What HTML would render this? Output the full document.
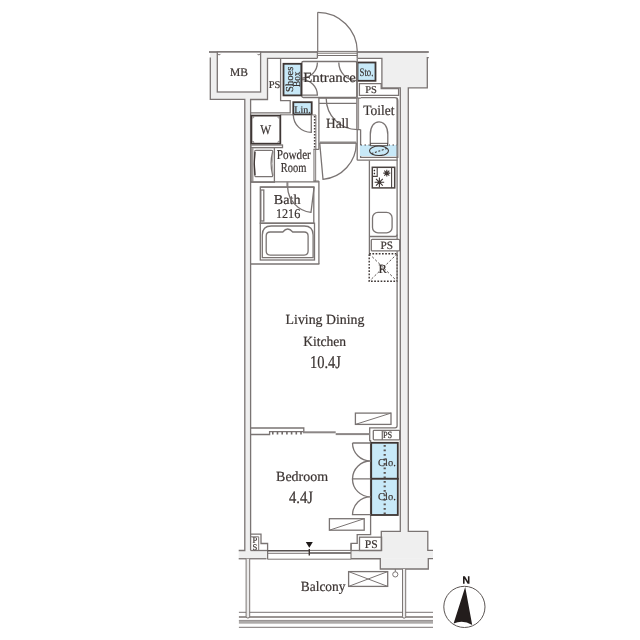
<!DOCTYPE html>
<html><head><meta charset="utf-8">
<style>
html,body{margin:0;padding:0;background:#fff;}
svg{display:block;will-change:transform;}
text{text-rendering:geometricPrecision;font-family:"Liberation Serif",serif;fill:#3a3331;stroke:#3a3331;stroke-width:0.2;}
.l{fill:none;stroke:#7a7473;stroke-width:1.3;}
.t{fill:none;stroke:#7a7473;stroke-width:1;}
.d{stroke:#3e3634;stroke-width:1.8;}
.w{fill:#efefef;stroke:none;}
.b{fill:#c8e9f8;}
.f{fill:#fff;}
.g{fill:#f4f4f4;}
</style></head><body>
<svg width="640" height="640" viewBox="0 0 640 640">
<!-- ===== wall fills ===== -->
<g class="w">
<rect x="210.3" y="52.8" width="217" height="5.5"/>
<rect x="210.3" y="52.8" width="7" height="46.5"/>
<rect x="210.3" y="92" width="57.2" height="7.3"/>
<rect x="260.6" y="52.8" width="6.9" height="46.5"/>
<rect x="244.8" y="99" width="5.8" height="451.5"/>
<rect x="381.9" y="52.8" width="45.4" height="35"/>
<rect x="400.3" y="87" width="8" height="445"/>
<rect x="381.3" y="531.4" width="46.5" height="27.4"/>
<rect x="380.3" y="558.6" width="48" height="10.4"/>
<rect x="238.7" y="550.5" width="27.8" height="8.25"/>
<rect x="351" y="550.5" width="31" height="8.25"/>
<rect x="427" y="550.4" width="6" height="8.2"/>
</g>
<!-- door sill white -->
<rect x="318" y="52.6" width="39" height="6" fill="#fff"/>

<!-- ===== outer / wall lines ===== -->
<path class="l" style="stroke-width:2.1;stroke:#8a8584" d="M209,52 H317.4 M357.2,52 H428.8"/>
<path class="l" d="M210.3,57.5 V99.3 H244.8 V550.5 H238.7"/>
<path class="l" d="M250.6,550.5 V99.5 H267.5 V58.3 H317.5"/>
<path class="l" d="M357.5,58.3 H381.9 V87.8 H400.3 V531.4 H381.3 V550.5"/>
<path class="l" d="M428.8,57.6 H427.3 V87.8 H408.3 V531.4 H427.8 V550.4 H433"/>
<path class="l" d="M433,558.6 H428.3 V569 H380.3 V558.75 H351"/>
<path class="l" d="M351,550.5 H381.6"/>
<path class="l" d="M238.7,558.75 H266.5"/>
<!-- door sill -->
<path class="t" style="stroke:#77716f" d="M317.5,51.4 H357.3 M317.5,53.2 H357.3 M317.5,55.5 H357.3"/>
<path class="l" d="M317.4,51 V58 M357.2,51 V58"/>

<!-- ===== MB ===== -->
<rect class="l f" x="217.3" y="52" width="43.3" height="40"/>
<text x="239" y="75.6" font-size="11.5" text-anchor="middle">MB</text>
<path class="t" d="M217.6,53.6 a1.6,1.6 0 0 0 3,0.3 M260.3,53.6 a1.6,1.6 0 0 1 -3,0.3"/>

<!-- ===== left PS ===== -->
<path class="l" d="M280.6,58.3 V100.6 H290.2 V112.8 H250.6"/>
<text x="274.6" y="88.1" font-size="10.5" text-anchor="middle">PS</text>

<!-- ===== Entrance ===== -->
<path class="l" style="stroke-width:1.2" d="M317.7,12.3 V51.5"/>
<path class="l" d="M317.7,12.3 A39.6,39.6 0 0 1 357.3,51.5"/>
<rect class="l" x="301.8" y="61.5" width="55" height="36" rx="1.5" fill="none"/>
<path class="l" d="M317.4,62.5 A15.6,15.6 0 0 1 301.8,78.1 M301.8,79.6 A15.6,15.6 0 0 1 317.4,95.2 H301.8"/>
<path class="l" d="M338.8,62.5 A18.2,18.2 0 0 0 357,80.7"/>
<rect class="d b" x="283.5" y="63.8" width="17.8" height="31.6"/>
<text transform="translate(292.8,92) rotate(-90)" font-size="10.6" textLength="25.4" lengthAdjust="spacingAndGlyphs">Shoes</text>
<text transform="translate(300.3,87) rotate(-90)" font-size="10.4" textLength="15.4" lengthAdjust="spacingAndGlyphs">Box</text>
<rect class="d b" x="357.5" y="62.5" width="18" height="18.3"/>
<text x="359.5" y="75.6" font-size="11.5" textLength="13.9" lengthAdjust="spacingAndGlyphs">Sto.</text>
<text x="303.2" y="81.8" font-size="14" textLength="52.6" lengthAdjust="spacingAndGlyphs">Entrance</text>

<!-- ===== right PS (top) ===== -->
<path class="l" d="M359.4,83.6 H381.2 V88.6 H398.6 V95.3 H359.4 Z"/>
<text x="371" y="93.4" font-size="10.5" text-anchor="middle">PS</text>

<!-- ===== Hall ===== -->
<path class="l" d="M318.9,98.2 H360.8 M318.9,103.3 H356.9 M318.9,97 V149.4 M318.9,181 V264 M357.2,58.3 V98.2 M357.2,129.6 V160.2"/>
<rect x="356.3" y="98.2" width="2.5" height="31.4" fill="#aaa5a4" stroke="#7a7473" stroke-width="0.6"/>
<path class="l" d="M326.2,98.2 A31.4,31.4 0 0 0 357.6,129.6 H360.6"/>
<text x="326" y="127.5" font-size="14" textLength="23" lengthAdjust="spacingAndGlyphs">Hall</text>
<path d="M319.7,142.7 H356.3" stroke="#8c8786" stroke-width="2.6"/>
<path class="l" d="M319.7,142.7 L323,179.3 A36.6,36.6 0 0 0 356.3,142.7"/>

<!-- ===== Toilet ===== -->
<path class="l" d="M357.2,160.2 H397.5 M360.6,129.6 V157.3 H397.8 V100.7 Q397.8,97.7 394.8,97.7 H360.8"/>
<text x="363.2" y="114.5" font-size="14.3" textLength="31.2" lengthAdjust="spacingAndGlyphs">Toilet</text>
<rect x="360" y="145" width="37.5" height="11" fill="#c8e9f8"/>
<path fill="none" stroke="#4a4341" stroke-width="1" stroke-dasharray="1.5,2.5" d="M360.5,145 H397"/>
<path class="l" d="M370.3,144 V134.5 C370.3,126.5 374,121.9 379,121.9 C384,121.9 387.8,126.5 387.8,134.5 V144"/>
<rect x="370.6" y="143.3" width="16.9" height="2.4" fill="#fff" stroke="#4a4341" stroke-width="0.9"/>
<ellipse cx="379" cy="150.8" rx="9.5" ry="4.75" fill="none" stroke="#3e3634" stroke-width="1.1"/>
<path fill="none" stroke="#3e3634" stroke-width="1.1" stroke-dasharray="2,1.6" d="M371.5,153.6 L387.2,148.4"/>

<!-- ===== Lin / W / Powder ===== -->
<rect class="d b" x="293.3" y="102.2" width="18.4" height="12.2"/>
<text x="302.5" y="112.8" font-size="10" text-anchor="middle">Lin.</text>
<path class="l" d="M293.3,114.4 A18,18 0 0 0 311.3,132.4 V114.4"/>
<path stroke="#4a4341" stroke-dasharray="1.5,1.5" stroke-width="1.7" d="M314.7,116 V149"/>
<path class="t" d="M315.9,115 V149.4 M312.7,115 H316 M314,149.4 H318.7 M280.2,114.8 H293.3"/>
<rect class="d" x="251.4" y="115.6" width="28.9" height="28.1" fill="#fff"/>
<text x="260.2" y="134" font-size="13.5" textLength="10.9" lengthAdjust="spacingAndGlyphs">W</text>
<g fill="#fff" stroke="#4a4341" stroke-width="0.6"><circle cx="252.9" cy="117.1" r="0.9"/><circle cx="278.8" cy="117.1" r="0.9"/><circle cx="252.9" cy="142.2" r="0.9"/><circle cx="278.8" cy="142.2" r="0.9"/></g>
<rect class="l f" x="251" y="145" width="31.5" height="2.6"/>
<rect class="l f" x="251.6" y="147.7" width="22.8" height="34.5"/>
<path class="l" d="M256,150.3 H271.3 Q273,150.3 272.6,152 Q269.6,163.5 272.6,175 Q273,176.7 271.3,176.7 H256.5 Q254.6,176.7 254.8,175 Q253.4,163.5 254.8,152 Q254.6,150.3 256,150.3 Z"/>
<path d="M255,152 Q253.6,163.5 255,175" fill="none" stroke="#3e3634" stroke-width="1.2"/>
<path d="M273.2,151.5 Q271.2,163.5 273.2,175.5" fill="none" stroke="#9a9593" stroke-width="0.8"/>
<path d="M252.4,148 V181.5" stroke="#a09b99" stroke-width="2.2"/>
<text x="276.8" y="159.2" font-size="13.6" textLength="34" lengthAdjust="spacingAndGlyphs">Powder</text>
<text x="280.8" y="172" font-size="13.6" textLength="25.6" lengthAdjust="spacingAndGlyphs">Room</text>
<rect x="313.9" y="149.2" width="1.8" height="32" fill="#e2e0e0" stroke="#7a7472" stroke-width="0.9"/>
<path class="t" d="M313.6,149.4 H318.9 M313.6,181 H318.9"/>

<!-- ===== Bath ===== -->
<path class="l" d="M250.6,181.8 H318.9 M260.3,187.1 H314.5"/>
<rect x="286.4" y="181.8" width="2" height="5.3" fill="#8c8786"/>
<rect class="l" x="260.3" y="187" width="53.5" height="36.2"/>
<rect class="l" x="260.8" y="190" width="3" height="31"/>
<text x="273.8" y="203.6" font-size="13.6" textLength="26.7" lengthAdjust="spacingAndGlyphs">Bath</text>
<text x="275.9" y="217.5" font-size="13.4" textLength="24.4" lengthAdjust="spacingAndGlyphs">1216</text>
<path class="l" d="M287.6,187.1 A26.5,26.5 0 0 0 311,212.4 L314.1,187.1"/>
<rect class="l" x="260.3" y="223.2" width="54.2" height="36.8"/>
<path class="l" d="M262.3,257.6 V235 Q262.3,226 271.3,226 H304.2 Q313.1,226 313.1,235 V257.6 Z"/>
<path class="l" d="M270.2,232 H282.8 Q287.7,226 292.7,232 H304.1 Q308.1,232 308.1,236 V251.1 Q308.1,255.1 304.1,255.1 H270.2 Q266.2,255.1 266.2,251.1 V236 Q266.2,232 270.2,232 Z"/>
<path class="l" d="M250.6,264 H319.4"/>

<!-- ===== Kitchen ===== -->
<path class="l" d="M369.4,160.4 V253.8 M369.4,236.5 H395.1 Q397.1,236.5 397.1,234.5"/>
<rect x="372.3" y="167.3" width="22.4" height="20.6" fill="none" stroke="#4a4341" stroke-width="1.5"/>
<path fill="none" stroke="#4a4341" stroke-width="1.1" d="M377.2,167.3 V176.4 H372.3 M391.6,167.3 V188"/>
<path fill="#2e2826" d="M374.4,169.6 l0.9,0.9 -0.9,0.9 -0.9,-0.9z M374.4,172.6 l0.9,0.9 -0.9,0.9 -0.9,-0.9z"/>
<g stroke="#3e3634" stroke-width="1.1" fill="none">
<path d="M383.3,173.1 H390.3 M386.8,169.7 V176.5 M384.3,170.6 L389.3,175.6 M389.3,170.6 L384.3,175.6"/>
<path d="M374.6,182.3 H384.2 M379.4,177.6 V187 M376,178.9 L382.8,185.7 M382.8,178.9 L376,185.7"/>
</g>
<circle cx="386.8" cy="173.1" r="1.3" fill="#3e3634"/>
<circle cx="379.4" cy="182.3" r="1.7" fill="#3e3634"/>
<rect class="l" x="372.5" y="212.4" width="19.6" height="20.5" rx="5.5"/>
<rect class="l" x="371.3" y="239.3" width="28.4" height="11.6" rx="1"/>
<text x="386.8" y="248.6" font-size="11.2" text-anchor="middle">PS</text>
<rect fill="none" stroke="#3e3634" stroke-dasharray="1.7,1.5" stroke-width="1.4" x="369.2" y="253.8" width="28" height="27.5"/>
<path fill="none" stroke="#5a5452" stroke-width="1" stroke-dasharray="2.4,1.8" d="M369.2,253.8 L397.2,281.3 M397.2,253.8 L369.2,281.3"/>
<text x="382.7" y="272.5" font-size="12.5" text-anchor="middle">R</text>

<!-- right finish line -->
<path class="l" d="M397.1,97.7 V239.3 M397.1,250.9 V425.8 Q397.1,427.8 395.1,427.8 H369.7 V441.3"/>

<!-- ===== LDK text ===== -->
<text x="285.6" y="323.7" font-size="14" textLength="78.8" lengthAdjust="spacingAndGlyphs">Living Dining</text>
<text x="303.2" y="345.5" font-size="14" textLength="42.9" lengthAdjust="spacingAndGlyphs">Kitchen</text>
<text x="309.9" y="367.8" font-size="18" textLength="31" lengthAdjust="spacingAndGlyphs">10.4J</text>
<!-- AC LDK -->
<rect class="l" x="355.4" y="413.1" width="35.6" height="11.3"/>
<path class="t" d="M355.4,424.4 L391,413.1"/>

<!-- ===== partition ===== -->
<path class="l" d="M251,428 H303.8 V432 M251,434.5 H269.6 V431.7 H303.8"/>
<path d="M272.8,431.7 V434.5 M277.5,431.7 V434.5 M282.2,431.7 V434.5 M286.9,431.7 V434.5 M291.6,431.7 V434.5 M296.3,431.7 V434.5 M301,431.7 V434.5" stroke="#6f6967" stroke-width="1.6"/>
<rect x="303" y="431.3" width="32.7" height="2" fill="#8c8786"/>
<rect x="335.7" y="433.1" width="34" height="2" fill="#8c8786"/>

<!-- ===== bedroom right: PS / closets ===== -->
<rect class="l" x="373.3" y="430.3" width="26.4" height="9.6" rx="0.8"/>
<path class="l" d="M382.3,430.3 V439.9"/>
<text x="382.9" y="438.3" font-size="9.6" textLength="9.3" lengthAdjust="spacingAndGlyphs">PS</text>
<path class="l" d="M370.6,440 V534.6 H357.2 V543.3 H351.1 V550.5"/>
<rect class="d b" x="371.2" y="442.8" width="26.6" height="36"/>
<rect class="d b" x="371.2" y="478.8" width="26.6" height="36.2"/>
<path stroke="#5a5452" stroke-width="2.2" stroke-dasharray="1.7,2.8" d="M384.7,445.1 V514"/>
<text x="387" y="465.6" font-size="10.5" text-anchor="middle">Clo.</text>
<text x="387" y="500" font-size="10.5" text-anchor="middle">Clo.</text>
<path class="l" d="M352.5,443 H370.6 M352.5,443 A18,18 0 0 0 370.6,461 M370.6,461 A18,18 0 0 0 352.5,478.8 H370.6"/>
<path class="l" d="M352.5,478.8 A18,18 0 0 0 370.6,496.9 M370.6,496.9 A18,18 0 0 0 352.5,514.6 H370.6"/>

<!-- bedroom text -->
<text x="276.1" y="481.2" font-size="14" textLength="52" lengthAdjust="spacingAndGlyphs">Bedroom</text>
<text x="289" y="502.8" font-size="17.6" textLength="24" lengthAdjust="spacingAndGlyphs">4.4J</text>
<!-- AC bedroom -->
<rect class="l" x="329.4" y="518.7" width="34.8" height="11.5"/>
<path class="t" d="M329.4,530.2 L364.2,518.7"/>

<!-- bottom PS -->
<rect class="l" x="359.5" y="537.2" width="22.1" height="13.3"/>
<text x="371.2" y="547.8" font-size="11.6" text-anchor="middle">PS</text>
<!-- bottom-left PS -->
<path class="l" d="M250.6,534.1 H261 V543.5 H267.6 V559.2"/>
<path class="t" d="M258.7,536.8 V550.5 M251,536.8 H258.7"/>
<path class="l" d="M250.6,550.5 H267.6"/>
<text x="254.8" y="542.8" font-size="8.6" text-anchor="middle">P</text>
<text x="254.8" y="549.8" font-size="8.6" text-anchor="middle">S</text>

<!-- window -->
<path d="M267.5,550.7 H309.3 M309.3,552.9 H351" stroke="#575150" stroke-width="1.5"/>
<path class="t" d="M267.5,553.3 H309.3 M309.3,550.4 H351 M267.5,559.2 H351 M351,543.3 V559.2"/>
<path d="M305.8,542 H312.8 L309.3,547.7 Z" fill="#1e1a19"/>
<path d="M309.3,549 V555.5" stroke="#3e3634" stroke-width="1.4"/>

<!-- ===== Balcony ===== -->
<path class="t" d="M238.9,612.3 H433 M238.9,627.3 H433"/>
<path d="M238.9,617 H433" stroke="#9a9593" stroke-width="1.8"/>
<rect x="238.9" y="620.2" width="194.1" height="3.5" fill="#adaaa9"/>
<path d="M238.9,620.4 H433" stroke="#8c8786" stroke-width="0.8"/>
<path fill="#ecebeb" stroke="#6f6967" stroke-width="0.9" d="M246.1,558.8 V616.3 A1.8,1.8 0 0 0 249.7,616.3 V558.8"/>
<path fill="#ecebeb" stroke="#6f6967" stroke-width="0.9" d="M402.5,569 V616.6 A1.6,1.6 0 0 0 405.7,616.6 V569"/>
<circle class="t" cx="395.3" cy="574.4" r="2.6"/>
<path class="t" d="M395.3,569 V571.8"/>
<rect class="l" x="348.6" y="571.6" width="39.1" height="14.8"/>
<path class="t" d="M348.6,571.6 L387.7,586.4 M348.6,586.4 L387.7,571.6"/>
<text x="300.8" y="590.9" font-size="14" textLength="44.6" lengthAdjust="spacingAndGlyphs">Balcony</text>

<!-- ===== compass ===== -->
<circle cx="464.4" cy="606.9" r="20.6" fill="none" stroke="#5a5452" stroke-width="1"/>
<path d="M465.2,587 L472.2,625 Q463,619.5 453.6,623.6 Z" fill="#231d1c"/>
<path d="M463,583.8 V576.2 H464.9 L467.9,581.2 V576.2 H469.5 V583.8 H467.6 L464.6,578.8 V583.8 Z" fill="#231d1c"/>
</svg>
</body></html>
